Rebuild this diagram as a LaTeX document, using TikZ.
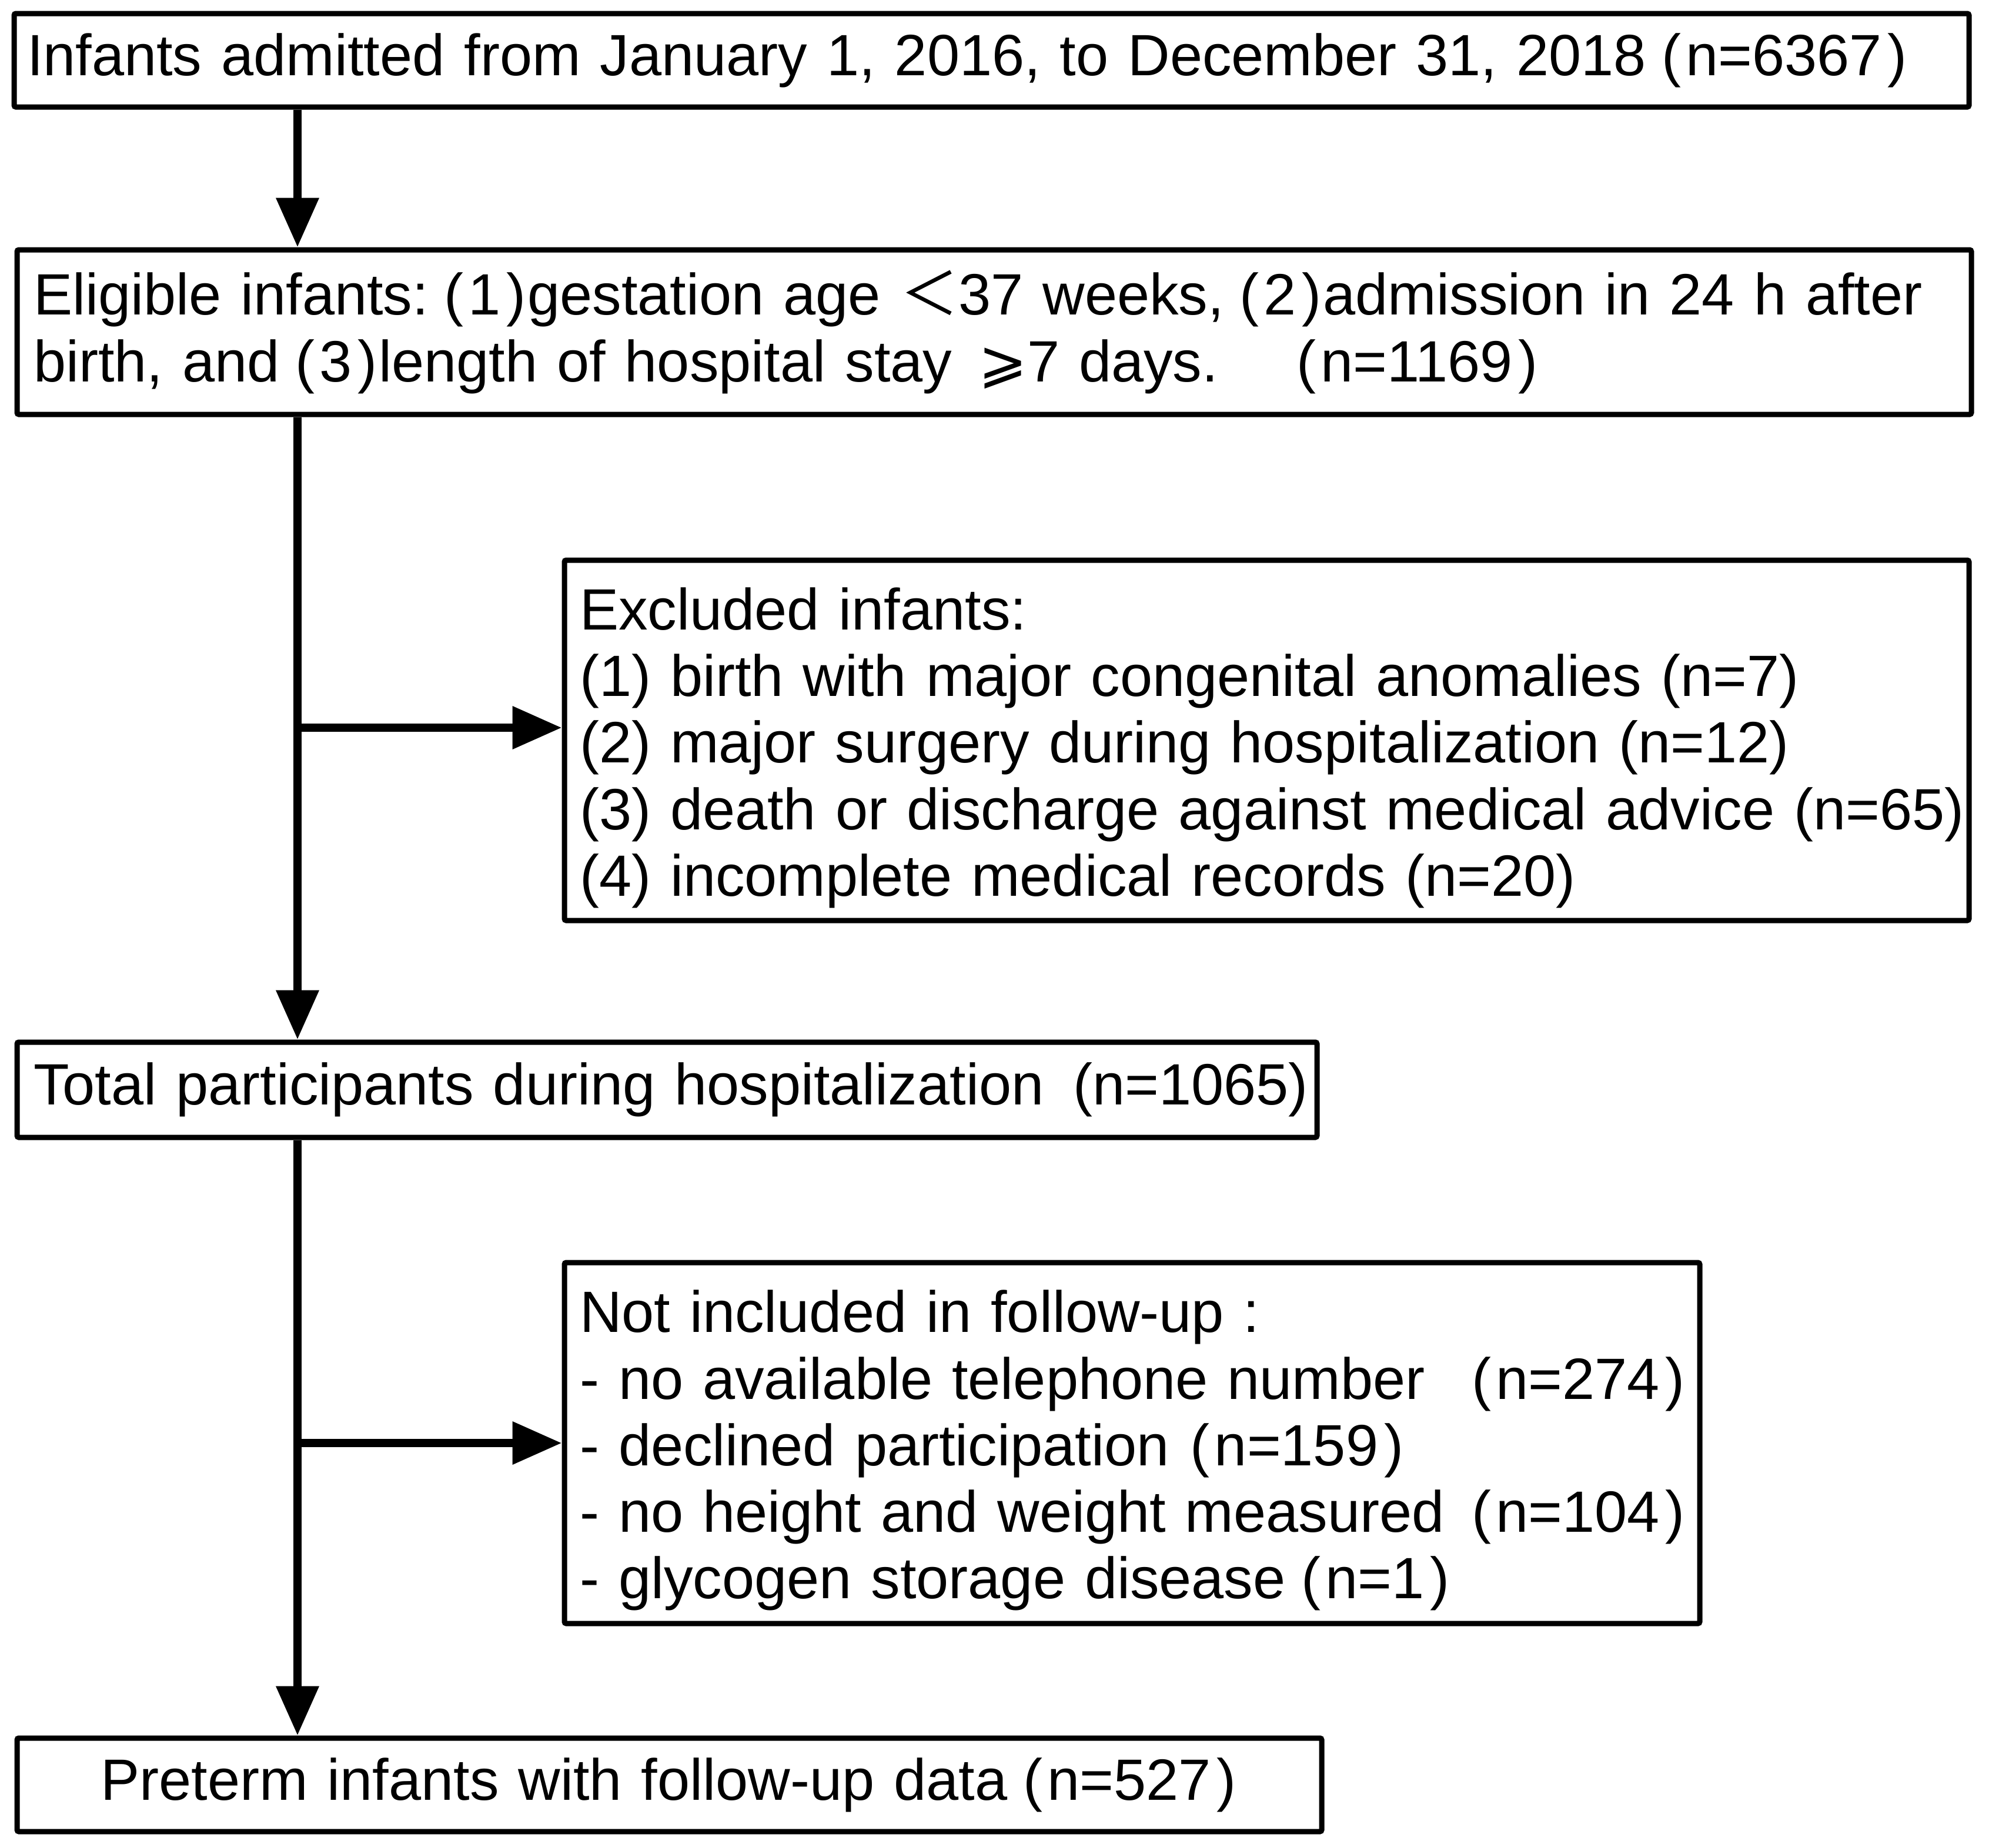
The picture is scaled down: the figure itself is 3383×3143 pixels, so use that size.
\documentclass[tikz,border=0pt]{standalone}
\usepackage{fontspec}
\setmainfont{Liberation Sans}
\newfontfamily\cjkfull{Noto Sans CJK SC}
\newfontfamily\dvs{DejaVu Sans}
\usetikzlibrary{arrows.meta}
\newcommand{\lpar}{\hspace{0.27em}(\hspace{0.08em}}
\newcommand{\rpar}{\hspace{0.1em})\hspace{0.03em}}
\newcommand{\firststrut}{\rule{0pt}{0.98em}}
\begin{document}
\begin{tikzpicture}[x=1pt,y=-1pt,
  box/.style={draw, line width=9pt, rounded corners=3pt, inner ysep=0pt,
    font=\fontsize{99.1}{113.3}\selectfont, align=left, anchor=center},
  arr/.style={line width=14pt, -{Triangle[length=84pt,width=70pt]}}
]
\fill[white] (0,0) rectangle (3383,3143);
\useasboundingbox (0,0) rectangle (3383,3143);

\node[box, inner xsep=22pt, minimum width=3325pt, minimum height=159pt, text width=3281pt] (b1) at (1686.5,102.5)
  {\mbox{Infants admitted from January 1, 2016, to December 31, 2018\lpar n=6367\rpar}};

\node[box, inner xsep=28pt, minimum width=3324pt, minimum height=280pt, text width=3268pt] (b2) at (1691,565)
  {\mbox{Eligible infants:\lpar 1\rpar gestation age {\cjkfull ＜}37 weeks,\lpar 2\rpar admission in 24 h after}\\
   \mbox{birth, and\lpar 3\rpar length of hospital stay\hspace{0.45em}{\dvs ⩾}7 days.\hspace{1.35em}(\hspace{0.08em}n=1169\rpar}};

\node[box, inner xsep=26pt, minimum width=2389pt, minimum height=613pt, text width=2337pt] (b3) at (2154.5,1259.5)
  {\mbox{\firststrut Excluded infants:}\\
   \mbox{(1) birth with major congenital anomalies (n=7)}\\
   \mbox{(2) major surgery during hospitalization (n=12)}\\
   \mbox{(3) death or discharge against medical advice (n=65)}\\
   \mbox{(4) incomplete medical records (n=20)}};

\node[box, inner xsep=28pt, minimum width=2211pt, minimum height=162pt, text width=2155pt] (b4) at (1134.5,1854)
  {\mbox{Total participants during hospitalization\hspace{0.17em} (n=1065)}};

\node[box, inner xsep=26pt, minimum width=1931pt, minimum height=614pt, text width=1879pt] (b5) at (1925.5,2455)
  {\mbox{\firststrut Not included in follow-up :}\\
   \mbox{- no available telephone number\hspace{0.2em} \lpar n=274\rpar}\\
   \mbox{- declined participation\hspace{0.1em}\lpar n=159\rpar}\\
   \mbox{- no height and weight measured\hspace{0.2em}\lpar n=104\rpar}\\
   \mbox{- glycogen storage disease\lpar n=1\rpar}};

\node[box, inner xsep=22pt, align=center, minimum width=2219pt, minimum height=159pt, text width=2175pt] (b6) at (1138.5,3036.5)
  {\mbox{Preterm infants with follow-up data\lpar n=527\rpar}};

\coordinate (xl) at (506,0);
\coordinate (j1) at (506,1238);
\coordinate (j2) at (506,2455);

\draw[arr] (b1.south -| xl) -- (b2.north -| xl);
\draw[arr] (b2.south -| xl) -- (b4.north -| xl);
\draw[arr] (j1) -- (b3.west |- j1);
\draw[arr] (b4.south -| xl) -- (b6.north -| xl);
\draw[arr] (j2) -- (b5.west |- j2);
\end{tikzpicture}
\end{document}
